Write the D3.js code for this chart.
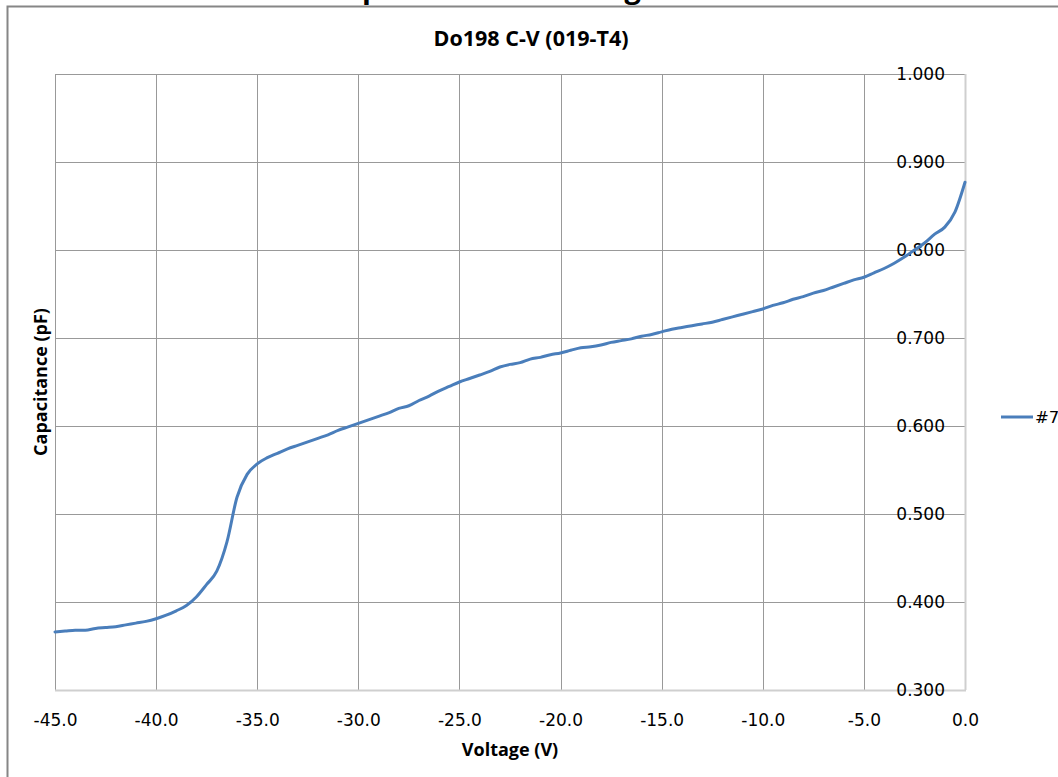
<!DOCTYPE html>
<html lang="en">
<head>
  <meta charset="UTF-8" />
  <title>Do198 C-V (019-T4)</title>
  <style>
    body {
      margin: 0;
      background-color: #fff;
      overflow: hidden;
    }

    svg {
      display: block;
      background-color: #fff;
    }

    .grid line {
      stroke: #999;
      stroke-width: 1;
      shape-rendering: crispEdges;
    }

    .grid .domain {
      display: none;
    }

    .tick-labels text {
      font-family: "DejaVu Sans", sans-serif;
      font-size: 17px;
      fill: #000;
    }

    .tick-labels .domain,
    .tick-labels line {
      display: none;
    }

    .axis-title {
      font-family: "Open Sans", sans-serif;
      font-weight: bold;
      font-size: 18px;
      fill: #000;
    }
  </style>
</head>

<body>
  <svg width="1058" height="777"></svg>

  <script src="https://d3js.org/d3.v7.min.js"></script>
  <script>
    // chart data
    const voltage = [
      -45, -44.5, -44, -43.5, -43, -42.5, -42, -41.5, -41, -40.5,
      -40, -39.5, -39, -38.5, -38, -37.5, -37, -36.5, -36, -35.5,
      -35, -34.5, -34, -33.5, -33, -32.5, -32, -31.5, -31, -30.5,
      -30, -29.5, -29, -28.5, -28, -27.5, -27, -26.5, -26, -25.5,
      -25, -24.5, -24, -23.5, -23, -22.5, -22, -21.5, -21, -20.5,
      -20, -19.5, -19, -18.5, -18, -17.5, -17, -16.5, -16, -15.5,
      -15, -14.5, -14, -13.5, -13, -12.5, -12, -11.5, -11, -10.5,
      -10, -9.5, -9, -8.5, -8, -7.5, -7, -6.5, -6, -5.5,
      -5, -4.5, -4, -3.5, -3, -2.5, -2, -1.5, -1, -0.5, 0
    ];
    const capacitance = [
      0.366, 0.367, 0.368, 0.368, 0.370, 0.371, 0.372, 0.374, 0.376, 0.378,
      0.381, 0.385, 0.390, 0.396, 0.406, 0.420, 0.435, 0.468, 0.519, 0.545,
      0.557, 0.564, 0.569, 0.574, 0.578, 0.582, 0.586, 0.590, 0.595, 0.599,
      0.603, 0.607, 0.611, 0.615, 0.620, 0.623, 0.629, 0.634, 0.640, 0.645,
      0.650, 0.654, 0.658, 0.662, 0.667, 0.670, 0.672, 0.676, 0.678, 0.681,
      0.683, 0.686, 0.689, 0.690, 0.692, 0.695, 0.697, 0.699, 0.702, 0.704,
      0.707, 0.710, 0.712, 0.714, 0.716, 0.718, 0.721, 0.724, 0.727, 0.730,
      0.733, 0.737, 0.740, 0.744, 0.747, 0.751, 0.754, 0.758, 0.762, 0.766,
      0.769, 0.774, 0.779, 0.785, 0.792, 0.800, 0.808, 0.818, 0.826, 0.843, 0.877
    ];
    const xTicks = [-45, -40, -35, -30, -25, -20, -15, -10, -5, 0];
    const yTicks = [0.3, 0.4, 0.5, 0.6, 0.7, 0.8, 0.9, 1.0];
    const seriesName = "#7";

    const svg = d3.select("svg");

    // plot area
    const plotLeft = 55, plotRight = 965, plotTop = 74, plotBottom = 690;

    const x = d3.scaleLinear().domain([-45, 0]).range([plotLeft, plotRight]);
    const y = d3.scaleLinear().domain([0.3, 1.0]).range([plotBottom, plotTop]);

    // chart frame (only left + top edges are in view)
    svg.append("rect")
      .attr("x", 7.5)
      .attr("y", 6.5)
      .attr("width", 1200)
      .attr("height", 900)
      .attr("fill", "none")
      .attr("stroke", "#868686")
      .attr("stroke-width", 2);

    // big sheet heading, cut off at the top edge
    svg.append("text")
      .attr("x", 326)
      .attr("y", -2)
      .style("font-family", "Open Sans, sans-serif")
      .style("font-weight", "bold")
      .style("font-size", "29px")
      .text("Capacitance vs Voltage");

    // gridlines
    svg.append("g")
      .attr("class", "grid")
      .attr("transform", `translate(0,${plotBottom})`)
      .call(d3.axisBottom(x).tickValues(xTicks).tickSize(-(plotBottom - plotTop)).tickFormat(""));

    svg.append("g")
      .attr("class", "grid")
      .attr("transform", `translate(${plotLeft},0)`)
      .call(d3.axisLeft(y).tickValues(yTicks).tickSize(-(plotRight - plotLeft)).tickFormat(""));

    // axis lines (light grey, like the reference)
    svg.append("line")
      .attr("x1", plotLeft).attr("x2", plotRight + 1)
      .attr("y1", plotBottom + 0.5).attr("y2", plotBottom + 0.5)
      .attr("stroke", "#cfcfcf")
      .attr("stroke-width", 2);

    svg.append("line")
      .attr("x1", plotRight + 0.5).attr("x2", plotRight + 0.5)
      .attr("y1", plotTop).attr("y2", plotBottom)
      .attr("stroke", "#cfcfcf")
      .attr("stroke-width", 2);

    // tick labels (plain hyphen minus, as in the reference)
    svg.append("g")
      .attr("class", "tick-labels")
      .attr("transform", `translate(0,${plotBottom})`)
      .call(d3.axisBottom(x).tickValues(xTicks).tickSize(0).tickPadding(24).tickFormat(d => d.toFixed(1)));

    svg.append("g")
      .attr("class", "tick-labels")
      .attr("transform", `translate(${plotRight},0)`)
      .call(d3.axisLeft(y).tickValues(yTicks).tickSize(0).tickPadding(20).tickFormat(d => d.toFixed(3)));

    // data line
    const points = voltage.map((v, i) => [v, capacitance[i]]);

    const line = d3.line()
      .x(d => x(d[0]))
      .y(d => y(d[1]))
      .curve(d3.curveMonotoneX);

    svg.append("path")
      .datum(points)
      .attr("fill", "none")
      .attr("stroke", "#4a7ebb")
      .attr("stroke-width", 3)
      .attr("stroke-linejoin", "round")
      .attr("stroke-linecap", "round")
      .attr("d", line);

    // titles
    svg.append("text")
      .attr("class", "axis-title")
      .attr("x", 531)
      .attr("y", 46)
      .attr("text-anchor", "middle")
      .style("font-size", "21.5px")
      .text("Do198 C-V (019-T4)");

    svg.append("text")
      .attr("class", "axis-title")
      .attr("x", 510)
      .attr("y", 756)
      .attr("text-anchor", "middle")
      .text("Voltage (V)");

    svg.append("text")
      .attr("class", "axis-title")
      .attr("transform", "translate(47,382) rotate(-90)")
      .attr("text-anchor", "middle")
      .text("Capacitance (pF)");

    // legend
    const legend = svg.append("g").attr("transform", "translate(1001,417)");

    legend.append("line")
      .attr("x1", 0).attr("x2", 32)
      .attr("stroke", "#4a7ebb")
      .attr("stroke-width", 3);

    legend.append("text")
      .attr("x", 34)
      .attr("dy", "0.35em")
      .style("font-family", "DejaVu Sans, sans-serif")
      .style("font-size", "16.5px")
      .text(seriesName);
  </script>
</body>
</html>
